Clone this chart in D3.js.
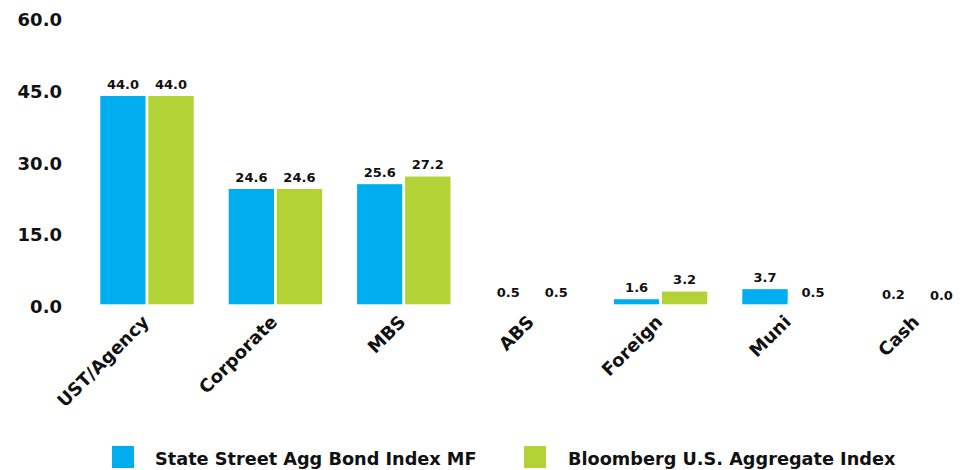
<!DOCTYPE html>
<html>
<head>
<meta charset="utf-8">
<script src="https://cdn.jsdelivr.net/npm/d3@7"></script>
<style>
  html, body { margin: 0; padding: 0; background: #fff; }
  svg { display: block; }
  text { font-family: "DejaVu Sans", sans-serif; font-weight: bold; fill: #111; }
</style>
</head>
<body>
<svg id="chart" width="968" height="470"></svg>
<script>
const categories = ["UST/Agency", "Corporate", "MBS", "ABS", "Foreign", "Muni", "Cash"];
const seriesNames = ["State Street Agg Bond Index MF", "Bloomberg U.S. Aggregate Index"];
const fundValues = [44.0, 24.6, 25.6, 0.5, 1.6, 3.7, 0.2];
const indexValues = [44.0, 24.6, 27.2, 0.5, 3.2, 0.5, 0.0];
const yTicks = [0, 15, 30, 45, 60];
const colors = ["#00aeef", "#b3d236"];

const svg = d3.select("#chart");

const x0 = d3.scaleBand().domain(categories).range([82.8, 981.6])
  .paddingInner(0.2523).paddingOuter(0.12615);
const x1 = d3.scaleBand().domain([0, 1]).range([0, x0.bandwidth()]).padding(0);
const y = d3.scaleLinear().domain([0, 60]).range([305.6, 18.0]);

// Y axis labels (no line, no ticks)
const yAxis = d3.axisLeft(y).tickValues(yTicks).tickFormat(d3.format(".1f")).tickSize(0).tickPadding(0);
const gy = svg.append("g").attr("transform", "translate(62,1.5)").call(yAxis);
gy.select(".domain").remove();
gy.selectAll("text").style("font-size", "18px").style("font-family", "DejaVu Sans")
  .style("font-weight", "bold").attr("fill", "#111");

const data = categories.map((c, i) => ({ cat: c, vals: [fundValues[i], indexValues[i]] }));

const groups = svg.append("g").selectAll("g").data(data).join("g")
  .attr("transform", d => `translate(${x0(d.cat)},0)`);

groups.selectAll("rect").data(d => d.vals.map((v, k) => ({ v, k }))).join("rect")
  .attr("x", d => x1(d.k))
  .attr("width", x1.bandwidth())
  .attr("y", d => y(d.v))
  .attr("height", d => y(0) - y(d.v))
  .attr("fill", d => colors[d.k])
  .attr("stroke", "#fff")
  .attr("stroke-width", 2.6);

groups.selectAll("text.val").data(d => d.vals.map((v, k) => ({ v, k }))).join("text")
  .attr("class", "val")
  .attr("x", d => x1(d.k) + x1.bandwidth() / 2)
  .attr("y", d => y(d.v) - 6)
  .attr("text-anchor", "middle")
  .style("font-size", "13px")
  .text(d => d3.format(".1f")(d.v));

// X axis labels rotated
svg.append("g").selectAll("text").data(categories).join("text")
  .attr("transform", d => `translate(${x0(d) + x0.bandwidth() / 2 + 3},${323}) rotate(-45)`)
  .attr("text-anchor", "end")
  .style("font-size", "18px")
  .text(d => d);

// Legend
const legendX = [112, 524];
const lg = svg.append("g").selectAll("g").data(seriesNames).join("g")
  .attr("transform", (d, i) => `translate(${legendX[i]},446)`);
lg.append("rect").attr("width", 22).attr("height", 22).attr("fill", (d, i) => colors[i]);
lg.append("text").attr("x", (d, i) => i === 0 ? 43 : 44).attr("y", 18.5)
  .style("font-size", "17.7px").text(d => d);
</script>
</body>
</html>
